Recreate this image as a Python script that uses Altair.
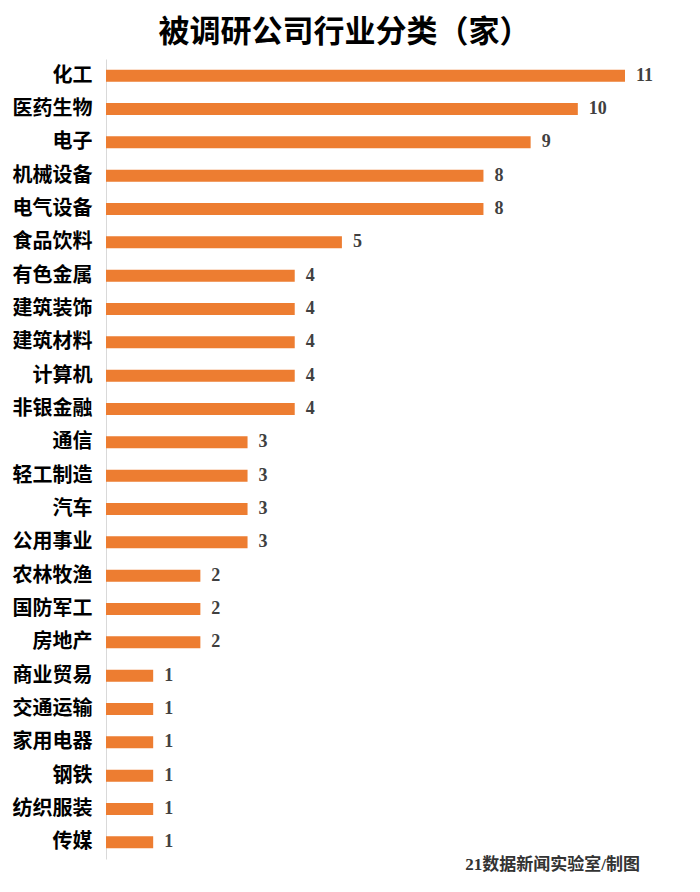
import altair as alt
import pandas as pd

categories = ["化工", "医药生物", "电子", "机械设备", "电气设备", "食品饮料", "有色金属", "建筑装饰",
              "建筑材料", "计算机", "非银金融", "通信", "轻工制造", "汽车", "公用事业", "农林牧渔",
              "国防军工", "房地产", "商业贸易", "交通运输", "家用电器", "钢铁", "纺织服装", "传媒"]
counts = [11, 10, 9, 8, 8, 5, 4, 4, 4, 4, 4, 3, 3, 3, 3, 2, 2, 2, 1, 1, 1, 1, 1, 1]
title_text = "被调研公司行业分类（家）"
footer_text = "21数据新闻实验室/制图"

df = pd.DataFrame({"行业": categories, "数量": counts})

x = alt.X("数量:Q", scale=alt.Scale(domain=[0, 11], nice=False), axis=None)
y = alt.Y("行业:N", sort=categories,
          scale=alt.Scale(paddingInner=0.64, paddingOuter=0.32),
          axis=alt.Axis(title=None, ticks=False, domainColor="#d9d9d9", domainWidth=1,
                        labelFont="Noto Sans CJK SC", labelFontSize=20, labelFontWeight="bold",
                        labelColor="#000000", labelPadding=14))

bars = alt.Chart(df).mark_bar(color="#ED7D31").encode(x=x, y=y)
labels = alt.Chart(df).mark_text(align="left", baseline="middle", dx=11,
                                 font="Liberation Serif", fontSize=18, fontWeight="bold",
                                 color="#404040").encode(x=x, y=y, text="数量:Q")
footer = alt.Chart(pd.DataFrame({"t": [footer_text]})).mark_text(
    align="right", baseline="middle", font="Liberation Serif, Noto Sans CJK SC",
    fontSize=17, fontWeight="bold", color="#333333").encode(
    x=alt.value(534), y=alt.value(806), text="t:N")

chart = alt.layer(bars, labels, footer).properties(
    width=519, height=800,
    padding={"left": 98, "top": 51, "right": 67, "bottom": 25},
    autosize=alt.AutoSizeParams(type="none"),
    background="#ffffff",
    title=alt.TitleParams(title_text, font="Noto Sans CJK SC", fontSize=31, fontWeight="bold",
                          color="#000000", anchor="middle", dx=-21, offset=10),
).configure_view(strokeWidth=0, stroke="transparent")

chart.save("out.html", embed_options={"renderer": "svg", "actions": False})
